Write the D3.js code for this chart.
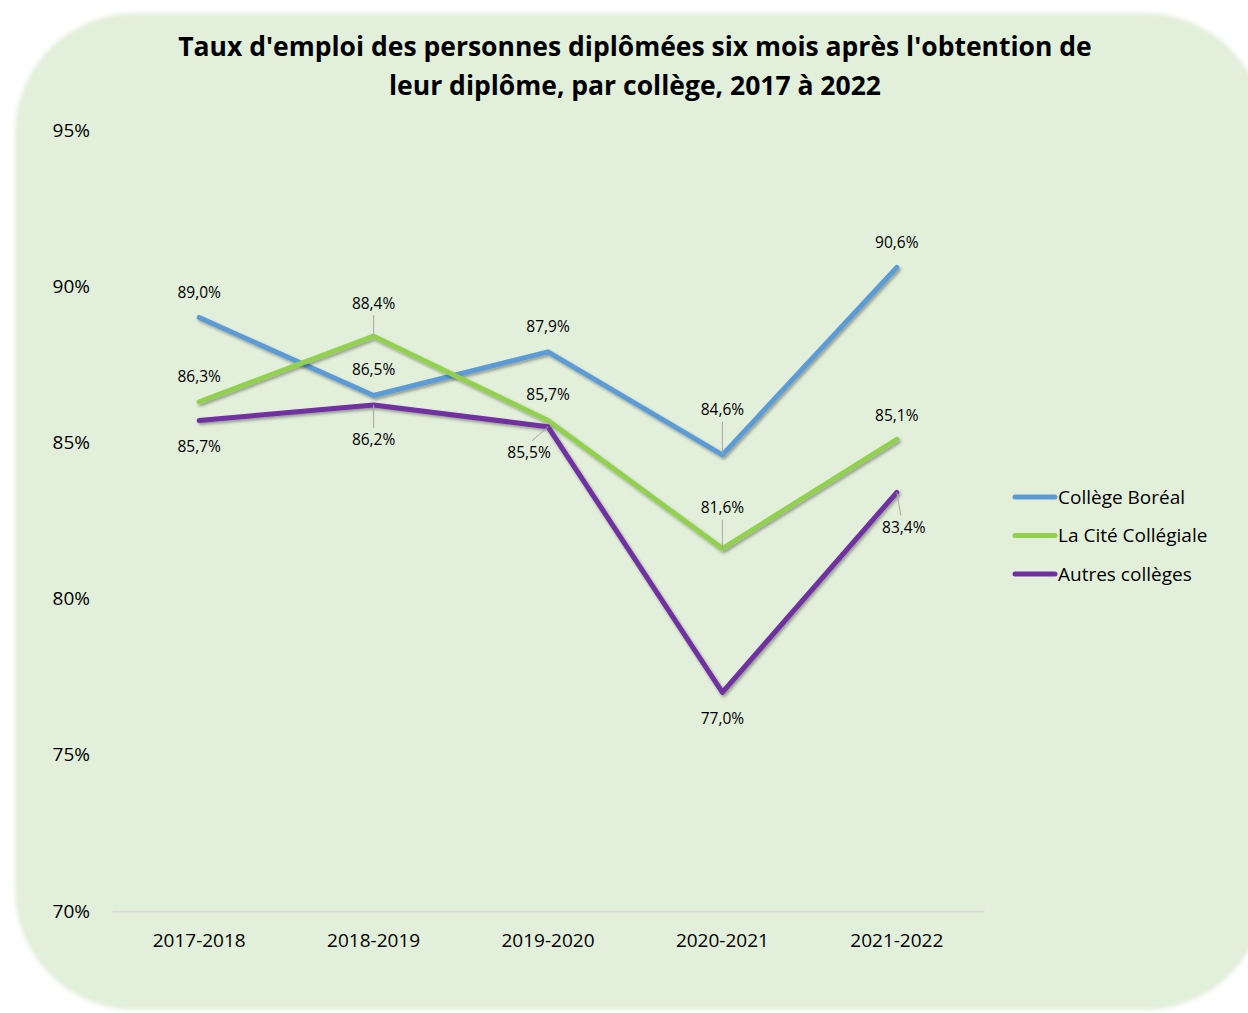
<!DOCTYPE html>
<html>
<head>
<meta charset="utf-8">
<script src="https://cdn.jsdelivr.net/npm/d3@7/dist/d3.min.js"></script>
<style>
  body { margin: 0; background: #fff; }
  text { font-family: "Open Sans", "Noto Sans", sans-serif; fill: #000; }
</style>
</head>
<body>
<div id="chart"></div>
<script>
// Data
var years = ["2017-2018", "2018-2019", "2019-2020", "2020-2021", "2021-2022"];
var boreal = [89.0, 86.5, 87.9, 84.6, 90.6];
var cite = [86.3, 88.4, 85.7, 81.6, 85.1];
var autres = [85.7, 86.2, 85.5, 77.0, 83.4];
var seriesNames = ["Collège Boréal", "La Cité Collégiale", "Autres collèges"];
var yTicks = [70, 75, 80, 85, 90, 95];

// Label nudges (Excel style manual placement), [dx, dy] from point to label centre
var labelNudge = [
  [[0, -25], [0, -26], [0, -25], [0, -45], [0, -25]],
  [[0, -25], [0, -33], [0, -26], [0, -41], [0, -24]],
  [[0, 26], [0, 35], [-19, 26], [0, 26], [7, 35]]
];
// which labels get a leader line
var leaders = [
  [false, false, false, true, false],
  [false, true, false, true, false],
  [false, true, true, false, true]
];

var W = 1248, H = 1013;
var margin = {top: 130, left: 112, right: 264, bottom: 102};
var colors = ["#5B9BD5", "#92D050", "#7030A0"];

var svg = d3.select("#chart").append("svg")
  .attr("width", W).attr("height", H);

var defs = svg.append("defs");
var blur = defs.append("filter").attr("id", "soft")
  .attr("x", "-5%").attr("y", "-5%").attr("width", "110%").attr("height", "110%");
blur.append("feGaussianBlur").attr("stdDeviation", 2);

var shadow = defs.append("filter").attr("id", "shadow")
  .attr("x", "-10%").attr("y", "-10%").attr("width", "120%").attr("height", "130%");
shadow.append("feDropShadow")
  .attr("dx", 1.5).attr("dy", 2).attr("stdDeviation", 1.5)
  .attr("flood-color", "#000").attr("flood-opacity", 0.35);

// background rounded panel
svg.append("rect")
  .attr("x", 15).attr("y", 13)
  .attr("width", 1250).attr("height", 997)
  .attr("rx", 120).attr("ry", 120)
  .attr("fill", "#E2EFDA")
  .attr("filter", "url(#soft)");

// Title
var title = svg.append("text")
  .attr("text-anchor", "middle")
  .style("font-weight", "bold")
  .style("font-size", "26.5px");
title.append("tspan").attr("x", 635).attr("y", 56)
  .text("Taux d'emploi des personnes diplômées six mois après l'obtention de");
title.append("tspan").attr("x", 635).attr("y", 95)
  .text("leur diplôme, par collège, 2017 à 2022");

// Scales
var x = d3.scaleBand()
  .domain(years)
  .range([margin.left, W - margin.right]);

var y = d3.scaleLinear()
  .domain([70, 95])
  .range([H - margin.bottom, margin.top]);

// Y labels
var yAxis = svg.append("g")
  .attr("transform", "translate(" + 90 + ",0)")
  .call(d3.axisLeft(y).tickValues(yTicks).tickSize(0).tickPadding(0)
    .tickFormat(function(d) { return d + "%"; }));
yAxis.select(".domain").remove();
yAxis.selectAll("text")
  .style("font-size", "19px")
  .style("font-family", "'Open Sans', sans-serif")
  .attr("fill", "#000");

// X axis
var xAxis = svg.append("g")
  .attr("transform", "translate(0," + y(70) + ")")
  .call(d3.axisBottom(x).tickSize(0).tickPadding(23));
xAxis.select(".domain").attr("stroke", "#D9D9D9").attr("stroke-width", 1.5);
xAxis.selectAll("text")
  .style("font-size", "19px")
  .style("font-family", "'Open Sans', sans-serif")
  .attr("fill", "#000");

// Lines
var allSeries = [boreal, cite, autres];
var line = d3.line()
  .x(function(d, i) { return x(years[i]) + x.bandwidth() / 2; })
  .y(function(d) { return y(d); });

svg.append("g").selectAll("path")
  .data(allSeries)
  .enter()
  .append("path")
    .attr("d", line)
    .attr("fill", "none")
    .attr("stroke", function(d, i) { return colors[i]; })
    .attr("stroke-width", 5)
    .attr("stroke-linejoin", "round")
    .attr("stroke-linecap", "round")
    .attr("filter", "url(#shadow)");

// Data labels + leader lines
var fmt = function(v) { return v.toFixed(1).replace(".", ",") + "%"; };
allSeries.forEach(function(s, si) {
  s.forEach(function(v, i) {
    var px = x(years[i]) + x.bandwidth() / 2, py = y(v);
    var n = labelNudge[si][i];
    var lx = px + n[0], ly = py + n[1];
    if (leaders[si][i]) {
      var sy = n[1] < 0 ? ly + 12 : ly - 12;
      var sx = n[0] !== 0 ? lx + (n[0] < 0 ? 3 : -3) : lx;
      svg.append("line")
        .attr("x1", sx).attr("y1", sy)
        .attr("x2", px).attr("y2", py)
        .attr("stroke", "#A6A6A6").attr("stroke-width", 1);
    }
    svg.append("text")
      .attr("x", lx).attr("y", ly)
      .attr("dy", "0.35em")
      .attr("text-anchor", "middle")
      .style("font-size", "15.5px")
      .text(fmt(v));
  });
});

// Legend
var legend = svg.append("g").selectAll("g")
  .data(seriesNames)
  .enter()
  .append("g")
    .attr("transform", function(d, i) { return "translate(1013," + (497 + i * 38.5) + ")"; });
legend.append("line")
  .attr("x1", 2).attr("x2", 42)
  .attr("stroke", function(d, i) { return colors[i]; })
  .attr("stroke-width", 5)
  .attr("stroke-linecap", "round");
legend.append("text")
  .attr("x", 45).attr("dy", "0.35em")
  .style("font-size", "19px")
  .text(function(d) { return d; });
</script>
</body>
</html>
